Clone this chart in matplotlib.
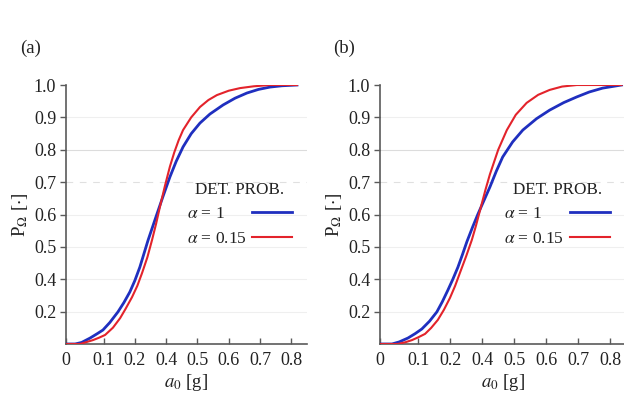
import matplotlib
matplotlib.use("Agg")
import matplotlib.pyplot as plt

plt.rcParams['font.family'] = ['Liberation Serif', 'DejaVu Serif']
plt.rcParams['mathtext.fontset'] = 'stix'

# x positions (axis units) and labels as printed
xtick_pos = [0, 0.12, 0.22, 0.32, 0.42, 0.52, 0.62, 0.72]
xtick_lab = ['0', '0.1', '0.2', '0.4', '0.5', '0.6', '0.7', '0.8']
ytick_pos = [0.125, 0.25, 0.375, 0.5, 0.625, 0.75, 0.875, 1.0]
ytick_lab = ['0.2', '0.4', '0.5', '0.6', '0.7', '0.8', '0.9', '1.0']
series_labels = [r'$\alpha$ = 1', r'$\alpha$ = 0.15']

# Panel (a)
a_blue_x = [0, 0.029, 0.05, 0.077, 0.10, 0.118, 0.14, 0.166, 0.185, 0.204, 0.22, 0.236, 0.262,
            0.29, 0.31, 0.332, 0.352, 0.374, 0.40, 0.428, 0.46, 0.502, 0.54, 0.578, 0.615,
            0.652, 0.69, 0.738]
a_blue_y = [0, 0, 0.006, 0.023, 0.04, 0.054, 0.083, 0.124, 0.16, 0.201, 0.245, 0.297, 0.40,
            0.50, 0.57, 0.645, 0.705, 0.761, 0.812, 0.853, 0.888, 0.923, 0.949, 0.969, 0.983,
            0.992, 0.997, 1.0]
a_red_x = [0, 0.045, 0.086, 0.105, 0.125, 0.15, 0.173, 0.19, 0.211, 0.228, 0.243, 0.26, 0.275, 0.288,
           0.300, 0.316, 0.332, 0.346, 0.36, 0.374, 0.40, 0.428, 0.455, 0.482, 0.52, 0.556, 0.60,
           0.652, 0.738]
a_red_y = [0, 0, 0.015, 0.024, 0.035, 0.063, 0.100, 0.135, 0.181, 0.225, 0.274, 0.335, 0.402, 0.465,
           0.529, 0.61, 0.685, 0.74, 0.787, 0.826, 0.875, 0.915, 0.942, 0.961, 0.978, 0.988, 0.995,
           1.0, 1.0]

# Panel (b)
b_blue_x = [0, 0.0375, 0.06, 0.0875, 0.11, 0.131, 0.155, 0.178, 0.195, 0.2125, 0.228, 0.244, 0.258,
            0.272, 0.29, 0.306, 0.325, 0.344, 0.364, 0.384, 0.415, 0.447, 0.49, 0.531, 0.575, 0.616,
            0.655, 0.697, 0.756]
b_blue_y = [0, 0, 0.008, 0.023, 0.04, 0.058, 0.088, 0.124, 0.163, 0.208, 0.25, 0.297, 0.345,
            0.395, 0.452, 0.50, 0.553, 0.606, 0.667, 0.722, 0.78, 0.826, 0.87, 0.903, 0.932, 0.954,
            0.973, 0.988, 1.0]
b_red_x = [0, 0.056, 0.08, 0.1, 0.12, 0.141, 0.16, 0.181, 0.2, 0.219, 0.235, 0.25, 0.27, 0.2875,
           0.30, 0.315, 0.33, 0.344, 0.37, 0.397, 0.425, 0.459, 0.495, 0.531, 0.57, 0.616, 0.756]
b_red_y = [0, 0, 0.007, 0.015, 0.026, 0.039, 0.062, 0.093, 0.132, 0.178, 0.224, 0.274, 0.34, 0.402,
           0.455, 0.525, 0.595, 0.655, 0.75, 0.826, 0.885, 0.931, 0.962, 0.981, 0.994, 1.0, 1.0]

BLUE = '#1f2fbf'
RED = '#e3232b'
AXC = '#5a5a5a'
TXT = '#222222'

fig = plt.figure(figsize=(6.24, 3.98), dpi=100)
ax_a = fig.add_axes([66/624, 54/398, 241/624, 259/398])
ax_b = fig.add_axes([380/624, 54/398, 246/624, 259/398])

def style(ax):
    ax.set_xlim(0, 0.77)
    ax.set_ylim(0, 1.0)
    for s in ['top', 'right']:
        ax.spines[s].set_visible(False)
    for s in ['left', 'bottom']:
        ax.spines[s].set_color(AXC)
        ax.spines[s].set_linewidth(1.2)
    ax.set_xticks(xtick_pos)
    ax.set_xticklabels(xtick_lab)
    ax.set_yticks(ytick_pos)
    ax.set_yticklabels(ytick_lab)
    ax.tick_params(axis='x', direction='in', length=4, width=1.0, color=AXC,
                   labelsize=13, labelcolor=TXT, pad=6)
    ax.tick_params(axis='y', direction='out', length=4, width=1.0, color=AXC,
                   labelsize=13, labelcolor=TXT, pad=3)
    for yp in ytick_pos[:-1]:
        if abs(yp - 0.75) < 1e-6:
            ax.axhline(yp, color='#dcdcdc', lw=0.8, zorder=0)
        elif abs(yp - 0.625) < 1e-6:
            ax.axhline(yp, color='#e0e0e0', lw=0.8, ls=(0, (6, 6)), zorder=0)
        else:
            ax.axhline(yp, color='#efefef', lw=0.8, zorder=0)
    ax.set_xlabel(r'$a_0$ [g]', fontsize=13.5, color=TXT, labelpad=2)
    ax.set_ylabel(r'P$_{\Omega}$ [$\cdot$]', fontsize=13.5, color=TXT, labelpad=3)

legends = []
for ax, bx, by, rx, ry, lab in [
    (ax_a, a_blue_x, a_blue_y, a_red_x, a_red_y, '(a)'),
    (ax_b, b_blue_x, b_blue_y, b_red_x, b_red_y, '(b)'),
]:
    style(ax)
    ax.plot(bx, by, color=BLUE, lw=2.0, label=series_labels[0], zorder=3)
    ax.plot(rx, ry, color=RED, lw=1.5, label=series_labels[1], zorder=3)
    leg = ax.legend(loc='center', bbox_to_anchor=(0.72, 0.50), frameon=False,
                    markerfirst=False, handlelength=2.3, handletextpad=0.35,
                    fontsize=12.5, title='DET. PROB.', title_fontsize=12.3,
                    labelspacing=0.5)
    for t in leg.get_texts():
        t.set_color(TXT)
    leg.get_title().set_color(TXT)
    legends.append(leg)
    ax.text(-0.19, 1.14, lab, transform=ax.transAxes, fontsize=13.5, color=TXT,
            ha='left', va='center')

# left-align legend texts, keep handles in a common column
fig.canvas.draw()
renderer = fig.canvas.get_renderer()
for leg in legends:
    col = leg._legend_handle_box.get_children()[0]
    col.align = 'left'
    rows = col.get_children()
    widths = [leg.get_texts()[i].get_window_extent(renderer).width for i in range(len(rows))]
    wmax = max(widths)
    base = leg.handletextpad * leg._fontsize
    for row, w in zip(rows, widths):
        row.sep = base + (wmax - w) * 72.0 / fig.dpi

fig.savefig('out.png', dpi=100)
